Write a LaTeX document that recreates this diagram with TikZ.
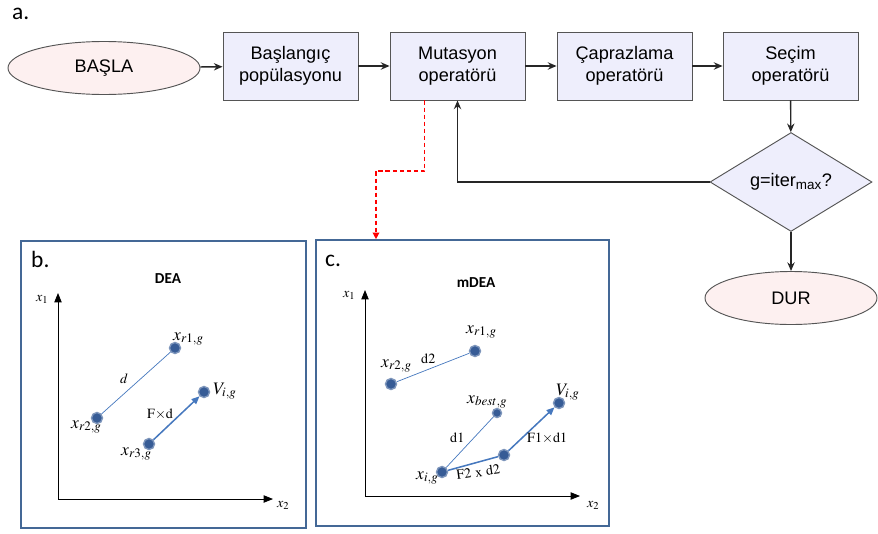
\documentclass[tikz,border=0pt]{standalone}
\usepackage{mathptmx}
\usepackage[no-math]{fontspec}
\setmainfont{Liberation Sans}
\newfontfamily\calib{Carlito}
\usetikzlibrary{arrows.meta,shapes.geometric}
\definecolor{BoxLila}  {RGB}{238,238,252}
\definecolor{OvalRose} {RGB}{253,240,240}
\definecolor{EdgeGrey} {RGB}{85, 85, 85}
\definecolor{PanelBlue}{RGB}{68, 104,150}
\definecolor{DotBlue}  {RGB}{55, 92, 150}
\definecolor{VecBlue}  {RGB}{70, 120,190}
\tikzset{
  flowtxt/.style={font=\fontsize{15.5}{19}\selectfont,align=center},
  opbox/.style={flowtxt,draw=EdgeGrey,fill=BoxLila,line width=0.8pt,minimum width=4.05cm,minimum height=2.04cm,inner sep=0pt},
  oval/.style={flowtxt,ellipse,draw=EdgeGrey,fill=OvalRose,line width=0.8pt,minimum height=1.59cm,inner sep=0pt},
  ask/.style={flowtxt,diamond,draw=EdgeGrey,fill=BoxLila,line width=0.8pt,minimum width=4.86cm,minimum height=2.4cm,inner sep=0pt},
  flow/.style={black!85,line width=1.2pt,-{Stealth[length=2.6mm,width=2.2mm]}},
  redflow/.style={red,line width=1.1pt,dash pattern=on 3.5pt off 2.5pt,-{Triangle[length=2mm,width=2mm]}},
  panel/.style={draw=PanelBlue,line width=1.4pt},
  axis/.style={black,line width=0.7pt,-{Triangle[length=2.8mm,width=2.2mm]}},
  dot/.style={circle,fill=DotBlue,draw=DotBlue!65!white,line width=1.2pt,minimum size=0.33cm,inner sep=0pt},
  diffline/.style={VecBlue,line width=0.6pt},
  stepvec/.style={VecBlue,line width=1.3pt},
  ptlab/.style={font=\fontsize{15}{15}\selectfont,anchor=base west,inner sep=0pt},
  axlab/.style={font=\fontsize{12}{12}\selectfont,anchor=base west,inner sep=0pt},
  veclab/.style={font=\fontsize{12}{12}\selectfont,anchor=base west,inner sep=0pt},
  tag/.style={font=\calib\fontsize{20}{20}\selectfont,anchor=base west,inner sep=0pt},
  ttl/.style={font=\calib\bfseries\fontsize{13}{13}\selectfont,anchor=base,inner sep=0pt}
}
\begin{document}
\begin{tikzpicture}[x=0.03cm,y=-0.03cm]
  \useasboundingbox (0,0) rectangle (878,533);
  \node[tag] (ta) at (12,19) {a.};
  \node[oval,minimum width=5.76cm] (start) at (104,68) {BAŞLA};
  \foreach \n/\x/\t in {bas/290.5/{Başlangıç\\popülasyonu},mut/457.5/{Mutasyon\\operatörü},
                        cap/624.5/{Çaprazlama\\operatörü},sec/790.5/{Seçim\\operatörü}}{
    \node[opbox] (\n) at (\x,66) {\t};
  }
  \node[ask] (dec) at (791,182) {g=iter\textsubscript{max}?};
  \node[oval,minimum width=5.16cm] (dur) at (791,298) {DUR};
  \foreach \a/\b in {start/bas,bas/mut,mut/cap,cap/sec,sec/dec,dec/dur}{
    \draw[flow] (\a) -- (\b);
  }
  \draw[flow] (dec.west) -| (mut.south);

  \node[panel,minimum width=8.55cm,minimum height=8.61cm] (pb) at (163.5,384.5) {};
  \node[panel,minimum width=8.79cm,minimum height=8.58cm] (pc) at (462.5,383) {};
  \coordinate (bend) at (376,171);
  \draw[redflow] ([xshift=-0.99cm]mut.south) |- (bend) -- (bend |- pc.north);

  % b. DEA
  \node[tag] (tb) at (31,267) {b.};
  \node[ttl] (hb) at (168,283) {DEA};
  \coordinate (ob) at (58,499);
  \coordinate (yb) at (58,293);
  \coordinate (xb) at (273,499);
  \draw[axis] (ob) -- (yb);
  \draw[axis] (ob) -- (xb);
  \node[axlab] (lx1b) at (36,301) {$x_1$};
  \node[axlab] (lx2b) at (277,507) {$x_2$};
  \foreach \n/\x/\y in {r1b/175/348,r2b/97/418,r3b/149/444,vb/204/392}{
    \node[dot] (\n) at (\x,\y) {};
  }
  \node[ptlab] (lr1b) at (173,340) {$x_{r1,g}$};
  \node[ptlab] (lr2b) at (71,428) {$x_{r2,g}$};
  \node[ptlab] (lr3b) at (121,455) {$x_{r3,g}$};
  \node[ptlab] (lvb) at (213,394) {$V_{i,g}$};
  \draw[diffline] (r2b) -- (r1b);
  \draw[stepvec,-{Triangle[length=2.4mm,width=2mm]}] (r3b) -- (vb);
  \node[veclab] (ldb) at (120,383) {$d$};
  \node[veclab] (lfb) at (147,418) {$\mathrm{F}{\times}\mathrm{d}$};

  % c. mDEA
  \node[tag] (tc) at (325,266) {c.};
  \node[ttl] (hc) at (476,287) {mDEA};
  \coordinate (oc) at (365,496);
  \coordinate (yc) at (365,290);
  \coordinate (xc) at (580,496);
  \draw[axis] (oc) -- (yc);
  \draw[axis] (oc) -- (xc);
  \node[axlab] (lx1c) at (343,297) {$x_1$};
  \node[axlab] (lx2c) at (587,507) {$x_2$};
  \foreach \n/\x/\y in {r1c/475/351,r2c/391/384,vc/559/403,xic/442/472,mc/504/455}{
    \node[dot] (\n) at (\x,\y) {};
  }
  \node[dot,minimum size=0.27cm] (bc) at (497,413) {};
  \node[ptlab] (lr1c) at (466,333) {$x_{r1,g}$};
  \node[ptlab] (lr2c) at (381,367) {$x_{r2,g}$};
  \node[ptlab] (lbc) at (467,403) {$x_{best,g}$};
  \node[ptlab] (lvc) at (556,395) {$V_{i,g}$};
  \node[ptlab] (lxic) at (416,479) {$x_{i,g}$};
  \draw[diffline] (r2c) -- (r1c);
  \draw[diffline] (xic) -- (bc);
  \draw[stepvec] (xic) -- (mc);
  \draw[stepvec,-{Triangle[length=2.4mm,width=2mm]}] (mc) -- (vc);
  \node[veclab] (ld2c) at (421,363) {$\mathrm{d2}$};
  \node[veclab] (ld1c) at (450,442) {$\mathrm{d1}$};
  \node[veclab] (lf1c) at (527,442) {$\mathrm{F1}{\times}\mathrm{d1}$};
  \node[veclab,rotate=8] (lf2c) at (457,480) {$\mathrm{F2\ x\ d2}$};
\end{tikzpicture}
\end{document}
